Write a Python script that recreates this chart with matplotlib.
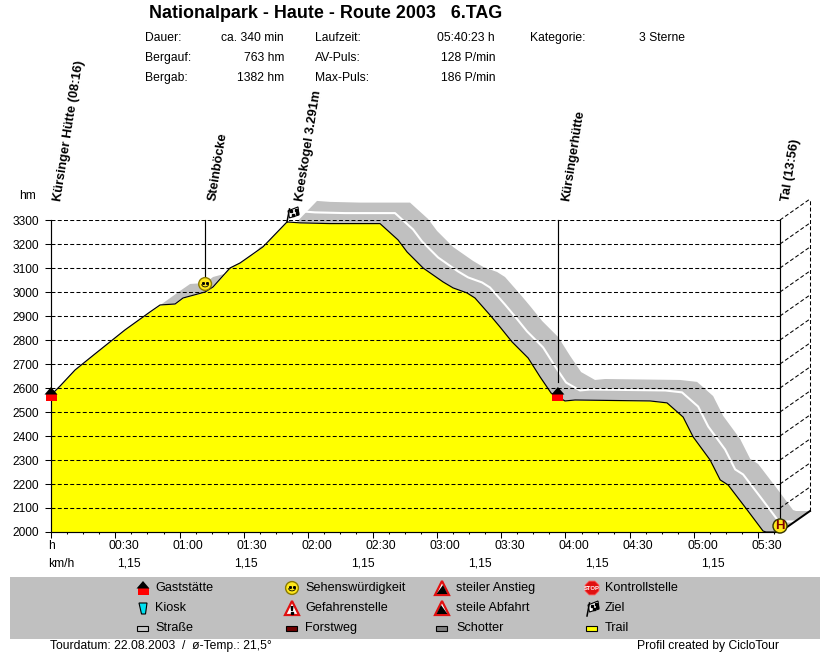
import matplotlib
matplotlib.use('Agg')
import matplotlib.pyplot as plt
import numpy as np
from matplotlib.patches import Circle, Polygon, Rectangle, RegularPolygon

plt.rcParams['font.family'] = ['Liberation Sans', 'DejaVu Sans']
plt.rcParams['font.size'] = 8.8

# Route profile: minutes since start, elevation in hm
profile_min = [0, 4.2, 11.2, 20.5, 34.5, 46.2, 50.9, 57.9, 61.6, 71.9, 75.6, 83.5, 88.2, 98.9,
               110.1, 116.2, 130.2, 153.5, 161.9, 166.1, 173.6, 182.9, 187.6, 194.1, 197.8,
               204.8, 209.5, 215.1, 222.6, 228.2, 233.3, 239.8, 244.5, 279.5, 287.4, 294.9,
               299.6, 307.5, 312.2, 315.9, 324.8, 332.2, 333.6, 340.1]
profile_hm = [2571, 2608, 2675, 2742, 2842, 2917, 2946, 2950, 2975, 3000, 3021, 3100, 3121, 3188,
              3292, 3288, 3285, 3285, 3217, 3167, 3100, 3042, 3017, 2996, 2975,
              2904, 2854, 2792, 2725, 2646, 2579, 2546, 2550, 2546, 2538, 2479,
              2396, 2300, 2217, 2196, 2092, 2004, 2000, 2000]

elev_ticks = list(range(2000, 3400, 100))
time_ticks = [30, 60, 90, 120, 150, 180, 210, 240, 270, 300, 330]
time_labels = ['00:30', '01:00', '01:30', '02:00', '02:30', '03:00', '03:30', '04:00', '04:30', '05:00', '05:30']
speed_labels = ['1,15'] * 6
speed_px = [129, 246, 363, 480, 597, 713]

# Waypoints along the route
poi_names = ['Kürsinger Hütte (08:16)', 'Steinböcke', 'Keeskogel 3.291m', 'Kürsingerhütte', 'Tal (13:56)']
poi_min = [0, 71.9, 110.1, 236.5, 340.1]
poi_hm = [2575, 3000, 3292, 2575, 2000]
poi_icons = ['house', 'smiley', 'flag', 'house', 'halt']

header_rows = [('Dauer:', 'ca. 340 min', 'Laufzeit:', '05:40:23 h'),
               ('Bergauf:', '763 hm', 'AV-Puls:', '128 P/min'),
               ('Bergab:', '1382 hm', 'Max-Puls:', '186 P/min')]

# Depth of the fake 3D road band, in axis units
DEPTH_MIN = 14.0
DEPTH_HM = 87.5
GREY = '#c0c0c0'
DASH = (0, (3.8, 2.2))

W, H = 830, 652
fig = plt.figure(figsize=(W / 100, H / 100), dpi=100, facecolor='white')

# overlay in pixel coordinates for header, legend and icons
over = fig.add_axes([0, 0, 1, 1], zorder=5)
over.set_xlim(0, W)
over.set_ylim(H, 0)
over.axis('off')
over.patch.set_alpha(0)

ax = fig.add_axes([51 / W, (H - 532) / H, 729 / W, 312 / H], zorder=2)
ax.set_xlim(0, 340.1)
ax.set_ylim(2000, 3300)
ax.patch.set_alpha(0)

t = np.array(profile_min)
e = np.array(profile_hm)

# grey road band and white centre line
band_x = np.concatenate([t, (t + DEPTH_MIN)[::-1]])
band_y = np.concatenate([e, (e + DEPTH_HM)[::-1]])
ax.fill(band_x, band_y, color=GREY, lw=0, clip_on=False, zorder=1)
ax.plot(t[14:] + DEPTH_MIN / 2, e[14:] + DEPTH_HM / 2, color='white', lw=1.5, clip_on=False, zorder=1.5)

ax.fill_between(t, 2000, e, color='#ffff00', lw=0, zorder=2)
ax.plot(t, e, color='black', lw=0.85, zorder=4)

# grid and side wall
ax.hlines(elev_ticks[1:], 0, 340.1, color='black', lw=0.75, linestyles=DASH, zorder=3)
for v in elev_ticks[1:]:
    ax.plot([340.1, 340.1 + DEPTH_MIN], [v, v + DEPTH_HM], color='black', lw=0.75,
            ls=DASH, clip_on=False, zorder=3)
ax.plot([340.1 + DEPTH_MIN] * 2, [2000 + DEPTH_HM, 3300 + DEPTH_HM], color='black', lw=0.75,
        ls=DASH, clip_on=False, zorder=3)
ax.plot([340.1, 340.1 + DEPTH_MIN], [2000, 2000 + DEPTH_HM], color='black', lw=1.4, clip_on=False, zorder=4)

# stems up to the top gridline
for i in [1, 3, 4]:
    ax.plot([poi_min[i]] * 2, [poi_hm[i] + 50, 3300], color='black', lw=0.85, clip_on=False, zorder=4)

for side in ['top', 'right']:
    ax.spines[side].set_visible(False)
for side in ['left', 'bottom']:
    ax.spines[side].set_linewidth(0.85)

ax.set_yticks(elev_ticks)
ax.set_yticklabels([str(v) for v in elev_ticks], fontsize=8.6)
ax.tick_params(axis='y', length=4.5, width=0.75, pad=4)
ax.set_xticks([0] + time_ticks)
ax.set_xticklabels([])
ax.set_xticks(np.arange(0, 340, 7.5), minor=True)
ax.tick_params(axis='x', which='major', length=4, width=0.75)
ax.tick_params(axis='x', which='minor', length=1.5, width=0.75)


def txt(x, y, s, **kw):
    kw.setdefault('va', 'center')
    kw.setdefault('ha', 'left')
    kw.setdefault('fontsize', 8.75)
    over.text(x, y + 1, s, color='black', **kw)


def to_px(tm, hm):
    return over.transData.inverted().transform(ax.transData.transform((tm, hm)))


def icon_house(x, y):
    over.add_patch(Rectangle((x - 5.5, y), 11, 7, fc='#ff0000', ec='none', zorder=6))
    over.add_patch(Polygon([[x - 6.5, y + 0.5], [x, y - 7], [x + 6.5, y + 0.5]], fc='black', ec='none', zorder=6))


def icon_smiley(x, y):
    over.add_patch(Circle((x, y), 6.4, fc='#ffe81a', ec='#8a7a00', lw=1, zorder=6))
    over.plot([x - 2, x + 2], [y - 1.5, y - 1.5], ls='none', marker='s', ms=1.1, color='black', zorder=7)
    arc = np.linspace(0.15, np.pi - 0.15, 12)
    over.plot(x + 3.4 * np.cos(arc), y + 0.3 + 2.6 * np.sin(arc), color='black', lw=0.6, zorder=7)


def icon_flag(x, y):
    over.plot([x - 5, x - 2.5], [y + 8, y - 5], color='black', lw=1.1, zorder=7)
    over.add_patch(Polygon([[x - 4, y - 3], [x + 6, y - 7], [x + 7, y + 1], [x - 2.5, y + 4]],
                           fc='white', ec='black', lw=0.8, zorder=6))
    over.plot([x - 0.5, x + 4, x + 1.5, x + 5], [y - 2.5, y - 4, y + 1, y - 1], ls='none', marker='s', ms=1.8,
              color='black', zorder=7)


def icon_halt(x, y):
    over.add_patch(Circle((x, y), 7.0, fc='#ffe81a', ec='#333300', lw=1, zorder=6))
    over.text(x, y + 0.3, 'H', color='#800000', fontsize=9.5, fontweight='bold', ha='center', va='center', zorder=7)


def icon_warn(x, y, kind):
    over.add_patch(Polygon([[x - 7, y + 7], [x, y - 7], [x + 7, y + 7]], fc='white', ec='#e01010', lw=1.6, zorder=6))
    if kind == 'danger':
        over.add_patch(Polygon([[x - 1.5, y - 2], [x + 1.5, y - 2], [x + 1, y + 3], [x - 1, y + 3]], fc='black', ec='none', zorder=7))
        over.plot([x], [y + 5], marker='s', ms=1.5, color='black', zorder=7)
    elif kind == 'up':
        over.add_patch(Polygon([[x - 5.5, y + 6], [x + 1, y - 3], [x + 5.5, y + 6]], fc='black', ec='none', zorder=7))
    else:
        over.add_patch(Polygon([[x - 5.5, y + 6], [x - 1, y - 3], [x + 5.5, y + 6]], fc='black', ec='none', zorder=7))


def icon_stop(x, y):
    over.add_patch(RegularPolygon((x, y), 8, radius=7.5, orientation=np.pi / 8, fc='#e01010', ec='#ff6060', lw=0.6, zorder=6))
    over.text(x, y + 0.2, 'STOP', color='white', fontsize=4.2, fontweight='bold', ha='center', va='center', zorder=7)


def icon_kiosk(x, y):
    over.add_patch(Polygon([[x - 4, y - 5], [x + 4, y - 5], [x + 2.5, y + 6], [x - 1.5, y + 6]], fc='#00e0f0', ec='black', lw=0.8, zorder=6))


def icon_swatch(x, y, col):
    over.add_patch(Rectangle((x - 5.5, y - 2.5), 11, 5, fc=col, ec='black', lw=0.8, zorder=6))


# route icons
for name, tm, hm, kind in zip(poi_names, poi_min, poi_hm, poi_icons):
    px, py = to_px(tm, hm)
    if kind == 'house':
        icon_house(px, py)
    elif kind == 'smiley':
        icon_smiley(px, py - 8)
    elif kind == 'flag':
        icon_flag(px + 5, py - 8)
    else:
        icon_halt(px, py - 6)

# rotated waypoint labels
for name, x in zip(poi_names, [58, 212.5, 300.5, 566.5, 786.5]):
    over.text(x, 201, name, rotation=81, rotation_mode='anchor', fontweight='bold', fontsize=9.3,
              ha='left', va='center', color='black')

# header
txt(149, 12, 'Nationalpark - Haute - Route 2003   6.TAG', fontweight='bold', fontsize=12.9)
for (a, b, c, d), y in zip(header_rows, [37, 57, 77]):
    txt(145, y, a)
    txt(284, y, b, ha='right')
    txt(315, y, c)
    txt(495, y, d, ha='right')
txt(530, 37, 'Kategorie:')
txt(639, 37, '3 Sterne')

# axis captions
txt(19, 195, 'hm')
txt(48, 545, 'h')
txt(48, 563, 'km/h')
for tm, lab in zip(time_ticks, time_labels):
    px, _ = to_px(tm, 2000)
    txt(px - 7, 545, lab)
for x, lab in zip(speed_px, speed_labels):
    txt(x, 563, lab, ha='center')

# legend
over.add_patch(Rectangle((10, 577), 810, 62, fc=GREY, ec='none', zorder=1))
rows = [588, 608, 628]
icon_house(143, rows[0])
icon_smiley(292, rows[0])
icon_warn(442, rows[0], 'up')
icon_stop(592, rows[0])
icon_kiosk(143, rows[1])
icon_warn(292, rows[1], 'danger')
icon_warn(442, rows[1], 'down')
icon_flag(592, rows[1])
icon_swatch(142, rows[2], '#c8c8c8')
icon_swatch(291, rows[2], '#700000')
icon_swatch(441, rows[2], '#808080')
icon_swatch(591, rows[2], '#ffff00')
legend_cols = [(155, ['Gaststätte', 'Kiosk', 'Straße']),
               (305, ['Sehenswürdigkeit', 'Gefahrenstelle', 'Forstweg']),
               (456, ['steiler Anstieg', 'steile Abfahrt', 'Schotter']),
               (605, ['Kontrollstelle', 'Ziel', 'Trail'])]
for x, names in legend_cols:
    for y, name in zip(rows, names):
        txt(x, y - 1, name, zorder=7, fontsize=9.1)

# footer
txt(50, 645, 'Tourdatum: 22.08.2003  /  ø-Temp.: 21,5°')
txt(637, 645, 'Profil created by CicloTour')

fig.savefig('out.png', dpi=100, facecolor='white')
